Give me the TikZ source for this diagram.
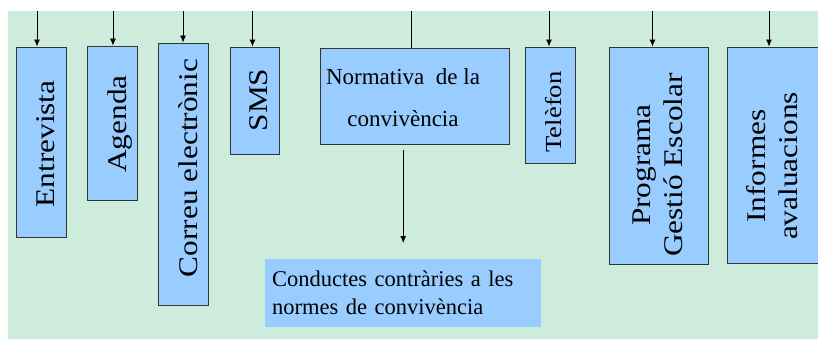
\documentclass[tikz,border=0pt]{standalone}
\usepackage{fontspec}
\setmainfont{Liberation Serif}
\usetikzlibrary{arrows.meta}
\definecolor{bggreen}{RGB}{205,236,220}
\definecolor{boxblue}{RGB}{153,204,255}
\tikzstyle{box}=[draw=black!80, fill=boxblue, line width=0.9pt, inner sep=0]
\tikzstyle{vtext}=[rotate=90, xscale=1.16, inner sep=0, align=center,
		font=\fontsize{27}{32}\selectfont]
\tikzstyle{htext}=[inner sep=0, align=center, font=\fontsize{23}{42}\selectfont]
\tikzstyle{arr}=[-{Latex[length=7pt,width=6pt]}, line width=0.8pt]
\tikzstyle{plain}=[line width=0.8pt]

\begin{document}
\begin{tikzpicture}[x=1pt, y=1pt]
	\useasboundingbox (0,0) rectangle (818,-340);
	\clip (0,0) rectangle (818,-340);
	\fill[bggreen] (8,-11) rectangle (818,-339);
	\coordinate (top) at (0,-11);
	% boxes
	\node[box, minimum width=50, minimum height=190] (entrevista) at (41,-142) {};
	\node[box, minimum width=50, minimum height=154] (agenda) at (112,-123) {};
	\node[box, minimum width=50, minimum height=262] (correu) at (183,-174) {};
	\node[box, minimum width=49, minimum height=107] (sms) at (254.5,-100.5) {};
	\node[box, minimum width=189, minimum height=96] (norm) at (414.5,-96) {};
	\node[box, minimum width=50, minimum height=116] (telefon) at (550,-105) {};
	\node[box, minimum width=99, minimum height=217] (programa) at (658.5,-155.5) {};
	\node[box, minimum width=99, minimum height=216] (informes) at (776.5,-155) {};
	\node[fill=boxblue, anchor=north west, minimum width=276, minimum height=68,
		inner xsep=7, inner ysep=0, text width=262, align=left,
		font=\fontsize{22.5}{28}\selectfont] (cond) at (265,-259)
		{Conductes contràries a les\\normes de convivència};
	% texts
	\node[vtext] (entrevistatxt) at (46,-144) {Entrevista};
	\node[vtext] (agendatxt) at (120.5,-124) {Agenda};
	\node[vtext] (correutxt) at (188.5,-168) {Correu electrònic};
	\node[vtext] (smstxt) at (259,-100) {SMS};
	\node[vtext, font=\fontsize{23}{28}\selectfont] (telefontxt) at (554,-112) {Telèfon};
	\node[vtext] (programatxt) at (657.5,-165) {Programa\\Gestió Escolar};
	\node[vtext] (informestxt) at (772.5,-166) {Informes\\avaluacions};
	\node[htext] (normtxt) at (403,-98) {Normativa~ de la\\convivència};
	% connectors
	\foreach \b/\dx in {entrevista/-4, agenda/1, correu/0, sms/-2, telefon/-1,
		programa/-6, informes/-7.5}
		\draw[arr] ([xshift=\dx pt]\b.north |- top) -- ([xshift=\dx pt]\b.north);
	\draw[plain] ([xshift=-3.5pt]norm.north |- top) -- ([xshift=-3.5pt]norm.north);
	\draw[arr] ([yshift=-6pt]norm.south -| cond.north) -- ([yshift=16pt]cond.north);
\end{tikzpicture}
\end{document}
